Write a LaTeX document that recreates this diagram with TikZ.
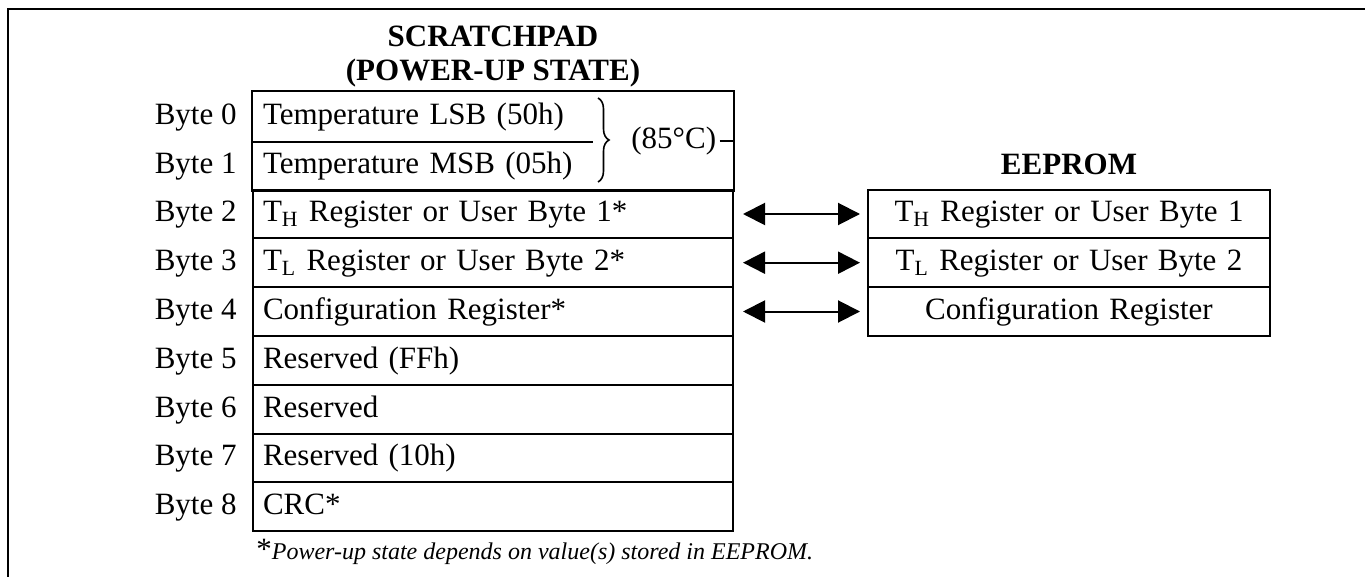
\documentclass[tikz,border=0pt]{standalone}
\usepackage{fontspec}
\setmainfont{Liberation Serif}
\usepackage{tikz}
\usetikzlibrary{arrows.meta, positioning, decorations.pathreplacing}
\newcommand{\cellfont}{\fontsize{15.5}{18}\selectfont}
\newcommand{\notefont}{\fontsize{12}{14}\selectfont\itshape}

\begin{document}
\begin{tikzpicture}[
  x=0.5pt, y=-0.5pt,
  line/.style={line width=1pt},
  cell/.style={draw, line width=1pt, minimum width=240pt, minimum height=24.4pt,
               text width=230pt, inner xsep=5pt, inner ysep=0pt, align=left,
               text height=11pt, text depth=3pt, font=\cellfont},
  opencell/.style={cell, draw=none},
  ecell/.style={cell, minimum width=201pt, text width=191pt, align=center},
  lbl/.style={inner sep=0pt, text height=11pt, text depth=3pt, font=\cellfont},
  title/.style={inner sep=0pt, align=center, font=\bfseries\fontsize{15.5}{17}\selectfont},
  dbl/.style={{Triangle[length=11pt,width=11pt]}-{Triangle[length=11pt,width=11pt]},
              line width=1pt, shorten <=4.5pt, shorten >=3.5pt},
  brc/.style={decorate, decoration={brace, amplitude=5.5pt}, line width=0.8pt}
]
  \useasboundingbox (0,0) rectangle (1365,577);

  % outer frame
  \draw[line] (1365,9) -- (8,9) -- (8,577);

  % scratchpad
  \node[opencell] (s0) at (493,116.4) {Temperature LSB (50h)};
  \node[opencell] (s1) at (493,165.2) {Temperature MSB (05h)};
  \node[cell]     (s2) at (493,214.0) {T\textsubscript{H} Register or User Byte 1*};
  \node[cell]     (s3) at (493,262.7) {T\textsubscript{L} Register or User Byte 2*};
  \node[cell]     (s4) at (493,311.5) {Configuration Register*};
  \node[cell]     (s5) at (493,360.3) {Reserved (FFh)};
  \node[cell]     (s6) at (493,409.1) {Reserved};
  \node[cell]     (s7) at (493,457.9) {Reserved (10h)};
  \node[cell]     (s8) at (493,506.6) {CRC*};
  \draw[line] (s0.north west) rectangle (s1.south east);
  \draw[line] (s0.south west) -- ++(341,0);

  \node[title, above=1.5pt of s0] (sptitle) {SCRATCHPAD\\(POWER-UP STATE)};

  \node[lbl, left=7.5pt of s0] (b0) {Byte 0};
  \node[lbl, left=7.5pt of s1] (b1) {Byte 1};
  \node[lbl, left=7.5pt of s2] (b2) {Byte 2};
  \node[lbl, left=7.5pt of s3] (b3) {Byte 3};
  \node[lbl, left=7.5pt of s4] (b4) {Byte 4};
  \node[lbl, left=7.5pt of s5] (b5) {Byte 5};
  \node[lbl, left=7.5pt of s6] (b6) {Byte 6};
  \node[lbl, left=7.5pt of s7] (b7) {Byte 7};
  \node[lbl, left=7.5pt of s8] (b8) {Byte 8};

  % temperature brace
  \coordinate (brtop) at (598,98);
  \coordinate (brbot) at (598,182);
  \draw[brc] (brtop) -- (brbot);
  \node[lbl, anchor=west, inner xsep=1.5pt] (deg) at (628,141) {(85°C)};
  \draw[line] (deg.east) -- (deg.east -| s0.east);

  % eeprom
  \node[ecell, right=66.5pt of s2] (e1) {T\textsubscript{H} Register or User Byte 1};
  \node[ecell, right=66.5pt of s3] (e2) {T\textsubscript{L} Register or User Byte 2};
  \node[ecell, right=66.5pt of s4] (e3) {Configuration Register};
  \node[title, above=6.5pt of e1] (eptitle) {EEPROM};

  \draw[dbl] (s2) -- (e1);
  \draw[dbl] (s3) -- (e2);
  \draw[dbl] (s4) -- (e3);

  \node[inner sep=0pt, anchor=north west, below right=3.5pt and 2pt of s8.south west]
    (note) {{\cellfont *}\notefont Power-up state depends on value(s) stored in EEPROM.};
\end{tikzpicture}
\end{document}
